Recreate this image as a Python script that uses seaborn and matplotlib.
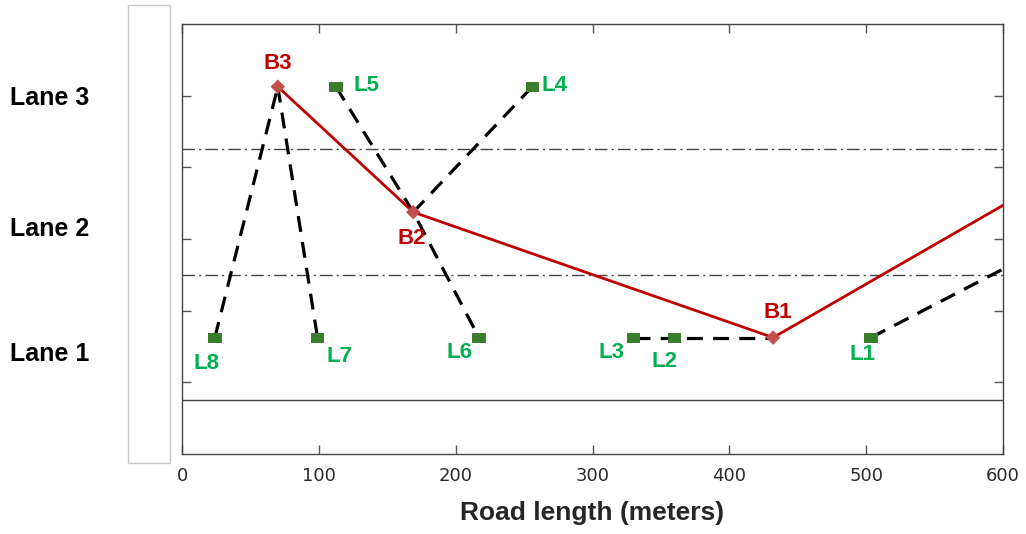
import pandas as pd
import seaborn as sns
import matplotlib.pyplot as plt
from matplotlib.patches import Rectangle

# posiciones (x en metros, y en unidades de carril)
base_names = ['B1', 'B2', 'B3']
base_x = [432, 169, 70]
base_y = [0.625, 2.375, 4.125]

link_names = ['L1', 'L2', 'L3', 'L4', 'L5', 'L6', 'L7', 'L8']
link_x = [503.5, 360, 330, 256, 112.5, 217, 99, 24]
link_y = [0.625, 0.625, 0.625, 4.125, 4.125, 0.625, 0.625, 0.625]

# trayectoria roja: B3 -> B2 -> B1 -> borde
route_x = [70, 169, 432, 600]
route_y = [4.125, 2.375, 0.625, 2.47]

# conexiones punteadas
seg_id = [1, 1, 2, 2, 3, 3, 3, 4, 4, 5, 5, 5, 6, 6]
seg_x = [24, 70, 70, 99, 112.5, 169, 217, 256, 169, 330, 360, 432, 503.5, 600]
seg_y = [0.625, 4.125, 4.125, 0.625, 4.125, 2.375, 0.625, 4.125, 2.375,
         0.625, 0.625, 0.625, 0.625, 1.58]

lane_names = ['Lane 1', 'Lane 2', 'Lane 3']
lane_label_y = [0.39, 2.14, 3.97]
lane_bounds = [1.5, 3.25]
road_edge = -0.25

sns.set_style('ticks')
plt.rcParams['font.family'] = ['DejaVu Sans']

fig = plt.figure(figsize=(10.26, 5.34), dpi=100)
ax = fig.add_axes([0.1774, 0.1498, 0.8002, 0.8052])

# recuadro gris de la izquierda
fig.add_artist(Rectangle((0.1248, 0.133), 0.0409, 0.8577, transform=fig.transFigure,
                         facecolor='white', edgecolor='#c8c8c8', lw=1))

for yb in lane_bounds:
    ax.axhline(yb, color='#444444', lw=1, dashes=(9, 3, 1.5, 3))
ax.axhline(road_edge, color='#444444', lw=1)

segs = pd.DataFrame({'seg': seg_id, 'x': seg_x, 'y': seg_y})
sns.lineplot(data=segs, x='x', y='y', units='seg', estimator=None, sort=False,
             color='black', lw=2.3, dashes=False, ax=ax)
for line in ax.lines[-6:]:
    line.set_dashes((5, 3.2))

route = pd.DataFrame({'x': route_x, 'y': route_y})
sns.lineplot(data=route, x='x', y='y', sort=False, color='#C00000', lw=2, ax=ax)

links = pd.DataFrame({'name': link_names, 'x': link_x, 'y': link_y})
sns.scatterplot(data=links, x='x', y='y', marker=[(-1.35, -1), (1.35, -1), (1.35, 1), (-1.35, 1)],
                s=95, color='#3A7D2C', edgecolor='none', zorder=5, ax=ax)

bases = pd.DataFrame({'name': base_names, 'x': base_x, 'y': base_y})
sns.scatterplot(data=bases, x='x', y='y', marker='D', s=55, color='#C0504D',
                edgecolor='none', zorder=6, ax=ax)

# desplazamiento de etiquetas (puntos)
offsets = {'B1': (3, 18), 'B2': (-1, -19), 'B3': (0, 17),
           'L1': (-6, -12), 'L2': (-7, -17), 'L3': (-16, -11), 'L4': (16, 1),
           'L5': (22, 1), 'L6': (-14, -11), 'L7': (16, -14), 'L8': (-6, -19)}
lbl = dict(fontsize=16, fontweight='bold', family='Liberation Sans', ha='center', va='center')
for n, x, y in zip(base_names, base_x, base_y):
    ax.annotate(n, (x, y), xytext=offsets[n], textcoords='offset points', color='#C00000', **lbl)
for n, x, y in zip(link_names, link_x, link_y):
    ax.annotate(n, (x, y), xytext=offsets[n], textcoords='offset points', color='#00B050', **lbl)

for n, y in zip(lane_names, lane_label_y):
    ax.text(-0.2095, y, n, transform=ax.get_yaxis_transform(), ha='left', va='center',
            fontsize=18, fontweight='bold', family='Liberation Sans', color='black')

ax.set_xlim(0, 600)
ax.set_ylim(-1, 5)
ax.set_xticks(range(0, 601, 100))
ax.set_yticks(range(0, 5))
ax.set_yticklabels([])
ax.tick_params(direction='in', length=6.5, width=1, color='#555555', top=True, right=True,
               labelsize=13, labelcolor='#2a2a2a', pad=9)
for sp in ax.spines.values():
    sp.set_color('#444444')
    sp.set_linewidth(1)
ax.set_ylabel('')
ax.set_xlabel('Road length (meters)', fontsize=19, fontweight='bold', family='Liberation Sans',
              labelpad=12)

fig.savefig('out.png', dpi=100)
